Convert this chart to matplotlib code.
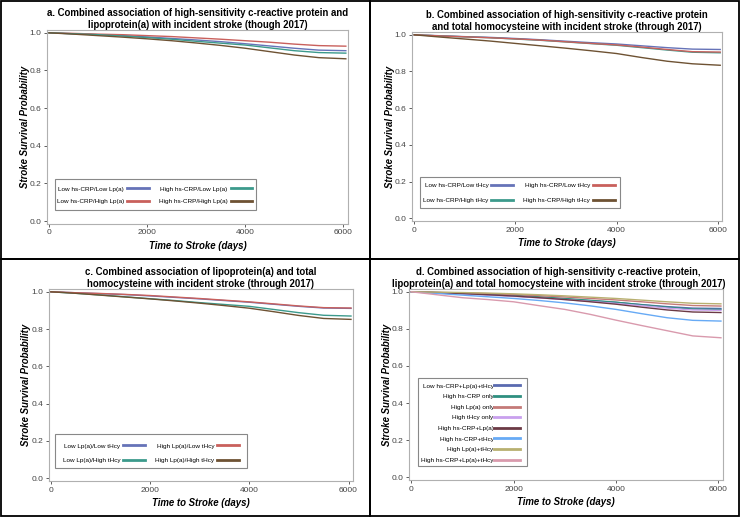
import numpy as np
import matplotlib
matplotlib.use("Agg")
import matplotlib.pyplot as plt
from matplotlib.patches import Rectangle

plt.rcParams['font.family'] = ['Liberation Sans', 'DejaVu Sans']

# follow-up time points (days)
days = [0, 500, 1000, 1500, 2000, 2500, 3000, 3500, 4000, 4500, 5000, 5500, 6050]

# a. hs-CRP x Lp(a)
a_labels = ["Low hs-CRP/Low Lp(a)", "Low hs-CRP/High Lp(a)",
            "High hs-CRP/Low Lp(a)", "High hs-CRP/High Lp(a)"]
a_lowlow = [1.0, 0.995, 0.990, 0.985, 0.978, 0.970, 0.962, 0.953, 0.942, 0.930, 0.918, 0.908, 0.905]
a_lowhigh = [1.0, 0.997, 0.993, 0.990, 0.985, 0.980, 0.973, 0.966, 0.958, 0.950, 0.940, 0.932, 0.929]
a_highlow = [1.0, 0.995, 0.990, 0.983, 0.975, 0.966, 0.955, 0.945, 0.935, 0.920, 0.905, 0.895, 0.892]
a_highhigh = [1.0, 0.993, 0.985, 0.977, 0.968, 0.958, 0.946, 0.933, 0.918, 0.900, 0.882, 0.868, 0.862]

# b. hs-CRP x tHcy
b_labels = ["Low hs-CRP/Low tHcy", "Low hs-CRP/High tHcy",
            "High hs-CRP/Low tHcy", "High hs-CRP/High tHcy"]
b_lowlow = [1.0, 0.995, 0.990, 0.986, 0.980, 0.973, 0.965, 0.957, 0.950, 0.940, 0.930, 0.922, 0.920]
b_lowhigh = [1.0, 0.994, 0.989, 0.984, 0.977, 0.970, 0.961, 0.952, 0.943, 0.930, 0.917, 0.905, 0.902]
b_highlow = [1.0, 0.994, 0.989, 0.984, 0.978, 0.971, 0.962, 0.953, 0.945, 0.933, 0.920, 0.908, 0.906]
b_highhigh = [1.0, 0.988, 0.977, 0.966, 0.953, 0.940, 0.927, 0.913, 0.898, 0.876, 0.856, 0.842, 0.834]

# c. Lp(a) x tHcy
c_labels = ["Low Lp(a)/Low tHcy", "Low Lp(a)/High tHcy",
            "High Lp(a)/Low tHcy", "High Lp(a)/High tHcy"]
c_lowlow = [1.0, 0.995, 0.990, 0.985, 0.978, 0.970, 0.962, 0.953, 0.944, 0.933, 0.922, 0.913, 0.911]
c_lowhigh = [1.0, 0.992, 0.983, 0.973, 0.963, 0.953, 0.942, 0.932, 0.922, 0.905, 0.888, 0.874, 0.870]
c_highlow = [1.0, 0.995, 0.991, 0.986, 0.980, 0.972, 0.964, 0.955, 0.946, 0.935, 0.924, 0.915, 0.913]
c_highhigh = [1.0, 0.992, 0.982, 0.972, 0.962, 0.951, 0.939, 0.926, 0.912, 0.893, 0.873, 0.857, 0.852]

# d. hs-CRP x Lp(a) x tHcy
d_labels = ["Low hs-CRP+Lp(a)+tHcy", "High hs-CRP only", "High Lp(a) only",
            "High tHcy only", "High hs-CRP+Lp(a)", "High hs-CRP+tHcy",
            "High Lp(a)+tHcy", "High hs-CRP+Lp(a)+tHcy"]
d_none = [1.0, 0.996, 0.991, 0.985, 0.978, 0.970, 0.961, 0.952, 0.943, 0.931, 0.920, 0.912, 0.910]
d_crp = [1.0, 0.996, 0.992, 0.987, 0.981, 0.973, 0.964, 0.954, 0.944, 0.930, 0.917, 0.907, 0.905]
d_lpa = [1.0, 0.997, 0.994, 0.990, 0.985, 0.979, 0.972, 0.964, 0.956, 0.946, 0.935, 0.926, 0.923]
d_thcy = [1.0, 0.994, 0.988, 0.982, 0.975, 0.967, 0.958, 0.948, 0.937, 0.925, 0.912, 0.902, 0.900]
d_crp_lpa = [1.0, 0.995, 0.990, 0.984, 0.977, 0.968, 0.958, 0.946, 0.933, 0.917, 0.902, 0.891, 0.888]
d_crp_thcy = [1.0, 0.991, 0.982, 0.973, 0.964, 0.953, 0.940, 0.924, 0.905, 0.882, 0.860, 0.846, 0.842]
d_lpa_thcy = [1.0, 0.998, 0.996, 0.993, 0.989, 0.984, 0.978, 0.971, 0.964, 0.955, 0.946, 0.938, 0.935]
d_all = [1.0, 0.984, 0.968, 0.958, 0.946, 0.925, 0.905, 0.878, 0.847, 0.818, 0.790, 0.762, 0.752]

# blue, red, teal, brown for a; blue, teal, red, brown for b and c
col_a = ["#6673b8", "#c9605c", "#3c9a8c", "#6e5233"]
col_bc = ["#6673b8", "#3c9a8c", "#c9605c", "#6e5233"]
col8 = ["#5a6ab0", "#2f8f80", "#c47a78", "#c9a0ee", "#6b3a45", "#67aaf5", "#b8b070", "#d99aad"]

# legend anchor (axes fraction), row spacing and frame padding in px (left, right, bottom, top)
panels = [
    dict(rect=[0.0635, 0.567, 0.4065, 0.375], tx=0.5,
         title="a. Combined association of high-sensitivity c-reactive protein and\nlipoprotein(a) with incident stroke (though 2017)",
         series=[a_lowlow, a_lowhigh, a_highlow, a_highhigh], labels=a_labels, colors=col_a,
         ncol=2, anchor=(0.033, 0.10), spacing=1.16, pads=(2, 4, 6, 7)),
    dict(rect=[0.557, 0.5725, 0.419, 0.3655], tx=0.5,
         title="b. Combined association of high-sensitivity c-reactive protein\nand total homocysteine with incident stroke (through 2017)",
         series=[b_lowlow, b_lowhigh, b_highlow, b_highhigh], labels=b_labels, colors=col_bc,
         ncol=2, anchor=(0.035, 0.095), spacing=1.45, pads=(3, 5, 5, 6)),
    dict(rect=[0.066, 0.0696, 0.411, 0.3714], tx=0.5,
         title="c. Combined association of lipoprotein(a) and total\nhomocysteine with incident stroke (through 2017)",
         series=[c_lowlow, c_lowhigh, c_highlow, c_highhigh], labels=c_labels, colors=col_bc,
         ncol=2, anchor=(0.046, 0.095), spacing=1.35, pads=(8, 8, 5, 9)),
    dict(rect=[0.553, 0.0716, 0.424, 0.3694], tx=0.475,
         title="d. Combined association of high-sensitivity c-reactive protein,\nlipoprotein(a) and total homocysteine with incident stroke (through 2017)",
         series=[d_none, d_crp, d_lpa, d_thcy, d_crp_lpa, d_crp_thcy, d_lpa_thcy, d_all],
         labels=d_labels, colors=col8, ncol=1, anchor=(0.038, 0.09), spacing=0.8,
         pads=(3, 7, 3, 5)),
]

fig = plt.figure(figsize=(7.4, 5.17), dpi=100)
fig.patch.set_facecolor("white")

# panel borders
for x0, y0 in [(0.002, 0.5), (0.5, 0.5), (0.002, 0.002), (0.5, 0.002)]:
    fig.add_artist(Rectangle((x0, y0), 0.498, 0.498, transform=fig.transFigure,
                             fill=False, edgecolor="black", linewidth=1.3))

legends = []
for p in panels:
    ax = fig.add_axes(p["rect"])
    for s, lab, c in zip(p["series"], p["labels"], p["colors"]):
        ax.plot(days, s, color=c, linewidth=1.0, label=lab)
    ax.set_xlim(-40, 6090)
    ax.set_ylim(-0.015, 1.015)
    ax.set_xticks([0, 2000, 4000, 6000])
    ax.set_yticks([0.0, 0.2, 0.4, 0.6, 0.8, 1.0])
    ax.set_yticklabels(["0.0", "0.2", "0.4", "0.6", "0.8", "1.0"])
    ax.tick_params(labelsize=6, colors="#444444", length=2.5, width=0.6, pad=1.5)
    for sp in ax.spines.values():
        sp.set_color("#b0b0b0")
        sp.set_linewidth(0.8)
    ax.set_title(p["title"], fontsize=6.95, fontweight="bold", pad=1.5,
                 linespacing=1.2, x=p["tx"])
    ax.set_xlabel("Time to Stroke (days)", fontsize=6.9, fontweight="bold", style="italic", labelpad=3)
    ax.set_ylabel("Stroke Survival Probability", fontsize=6.9, fontweight="bold", style="italic", labelpad=0)
    if p["ncol"] == 2:
        leg = ax.legend(ncol=2, loc="lower left", bbox_to_anchor=p["anchor"],
                        borderaxespad=0, borderpad=0, fontsize=4.6, markerfirst=False,
                        handlelength=3.4, handletextpad=0.45, columnspacing=1.6,
                        labelspacing=p["spacing"], frameon=False)
    else:
        leg = ax.legend(ncol=1, loc="lower left", bbox_to_anchor=p["anchor"],
                        borderaxespad=0, borderpad=0, fontsize=4.6, markerfirst=False,
                        handlelength=4.0, handletextpad=0.1, labelspacing=p["spacing"],
                        frameon=False)
    for lh in leg.get_lines():
        lh.set_linewidth(2.0)
    legends.append((leg, p["pads"]))

# legend frames drawn around the legend content
fig.canvas.draw()
r = fig.canvas.get_renderer()
W, H = fig.bbox.width, fig.bbox.height
for leg, (l, rr, b, t) in legends:
    bb = leg.get_window_extent(r)
    x0, y0 = (bb.x0 - l) / W, (bb.y0 - b) / H
    w, h = (bb.width + l + rr) / W, (bb.height + b + t) / H
    fig.add_artist(Rectangle((x0, y0), w, h, transform=fig.transFigure, fill=False,
                             edgecolor="#888888", linewidth=0.8))

fig.savefig("out.png", dpi=100)
